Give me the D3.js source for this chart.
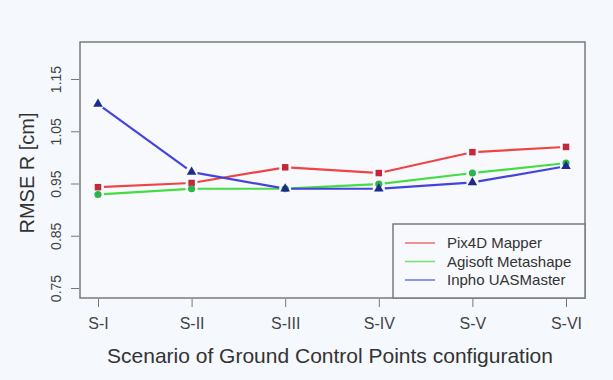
<!DOCTYPE html>
<html>
<head>
<meta charset="utf-8">
<script src="https://cdn.jsdelivr.net/npm/d3@7"></script>
<style>
  html, body { margin: 0; padding: 0; background: #f5f8fc; }
  svg { display: block; font-family: "Liberation Sans", Arial, sans-serif; }
</style>
</head>
<body>
<svg id="chart" width="613" height="380"></svg>
<script>
// scenarios along the x axis
const scenarios = ['S-I', 'S-II', 'S-III', 'S-IV', 'S-V', 'S-VI'];
const yTicks = [0.75, 0.85, 0.95, 1.05, 1.15];

// RMSE R values
const pix4d   = [0.943, 0.951, 0.981, 0.970, 1.010, 1.020];
const agisoft = [0.929, 0.940, 0.940, 0.949, 0.970, 0.989];
const inpho   = [1.102, 0.972, 0.940, 0.940, 0.952, 0.983];

const seriesNames = ['Pix4D Mapper', 'Agisoft Metashape', 'Inpho UASMaster'];

const series = [
    {name: seriesNames[0], values: pix4d,   line: '#ee4444', mark: '#c2283a', shape: d3.symbolSquare,   size: 42},
    {name: seriesNames[1], values: agisoft, line: '#44dd44', mark: '#2fb34a', shape: d3.symbolCircle,   size: 40},
    {name: seriesNames[2], values: inpho,   line: '#4444dd', mark: '#1c2a8c', shape: d3.symbolTriangle, size: 40}
];

const box = {left: 80, right: 585, top: 42, bottom: 298};
const svg = d3.select('#chart');

const x = d3.scalePoint().domain(scenarios).range([98, 566]);
const y = d3.scaleLinear().domain([0.75, 1.15]).range([288, 79]);

// plot frame
svg.append('rect')
    .attr('x', box.left).attr('y', box.top)
    .attr('width', box.right - box.left).attr('height', box.bottom - box.top)
    .attr('fill', '#f7f9fd')
    .attr('stroke', '#7a7a7a').attr('stroke-width', 1.5);

// x axis
const xAxis = svg.append('g')
    .attr('transform', `translate(0,${box.bottom + 1})`)
    .call(d3.axisBottom(x).tickSize(8).tickPadding(11));
xAxis.select('.domain').remove();
xAxis.selectAll('line').attr('stroke', '#777');
xAxis.selectAll('text')
    .attr('fill', '#444').style('font-size', '16px')
    .style('font-family', '"Liberation Sans", Arial, sans-serif');

// y axis with rotated labels
const yAxis = svg.append('g')
    .attr('transform', `translate(${box.left - 1},0)`)
    .call(d3.axisLeft(y).tickValues(yTicks).tickFormat(d3.format('.2f')).tickSize(8));
yAxis.select('.domain').remove();
yAxis.selectAll('line').attr('stroke', '#777');
yAxis.selectAll('text')
    .attr('fill', '#444').style('font-size', '14px')
    .style('font-family', '"Liberation Sans", Arial, sans-serif')
    .attr('x', null)
    .attr('text-anchor', 'middle')
    .attr('transform', 'translate(-23,0) rotate(-90)')
    .attr('dy', '0.35em');

// axis titles
svg.append('text')
    .attr('transform', `translate(34,173) rotate(-90)`)
    .attr('text-anchor', 'middle')
    .attr('fill', '#333').style('font-size', '20px')
    .text('RMSE R [cm]');

svg.append('text')
    .attr('x', 330).attr('y', 363)
    .attr('text-anchor', 'middle')
    .attr('fill', '#333').style('font-size', '21px')
    .text('Scenario of Ground Control Points configuration');

// lines with gaps around the points, like R's type = "b"
const gap = 6;
series.forEach(s => {
    const pts = s.values.map((v, i) => [x(scenarios[i]), y(v)]);
    const segs = d3.pairs(pts).map(([a, b]) => {
        const dx = b[0] - a[0], dy = b[1] - a[1];
        const len = Math.hypot(dx, dy);
        const ux = dx / len, uy = dy / len;
        return [[a[0] + ux * gap, a[1] + uy * gap], [b[0] - ux * gap, b[1] - uy * gap]];
    });
    svg.append('g').selectAll('line')
        .data(segs).enter().append('line')
        .attr('x1', d => d[0][0]).attr('y1', d => d[0][1])
        .attr('x2', d => d[1][0]).attr('y2', d => d[1][1])
        .attr('stroke', s.line).attr('stroke-width', 2.2);
    svg.append('g').selectAll('path')
        .data(pts).enter().append('path')
        .attr('transform', d => `translate(${d[0]},${d[1]})`)
        .attr('d', d3.symbol().type(s.shape).size(s.size))
        .attr('fill', s.mark);
});

// legend in the bottom right corner
const lg = svg.append('g');
lg.append('rect')
    .attr('x', 393).attr('y', 224)
    .attr('width', box.right - 393).attr('height', box.bottom - 224)
    .attr('fill', '#f7f9fd').attr('stroke', '#7a7a7a').attr('stroke-width', 1.5);
series.forEach((s, i) => {
    const ly = 243 + i * 18.5;
    lg.append('line')
        .attr('x1', 405).attr('x2', 435).attr('y1', ly).attr('y2', ly)
        .attr('stroke', s.line).attr('stroke-width', 1.5).attr('opacity', 0.75);
    lg.append('text')
        .attr('x', 447).attr('y', ly).attr('dy', '0.35em')
        .attr('fill', '#333').style('font-size', '15px')
        .text(s.name);
});
</script>
</body>
</html>
